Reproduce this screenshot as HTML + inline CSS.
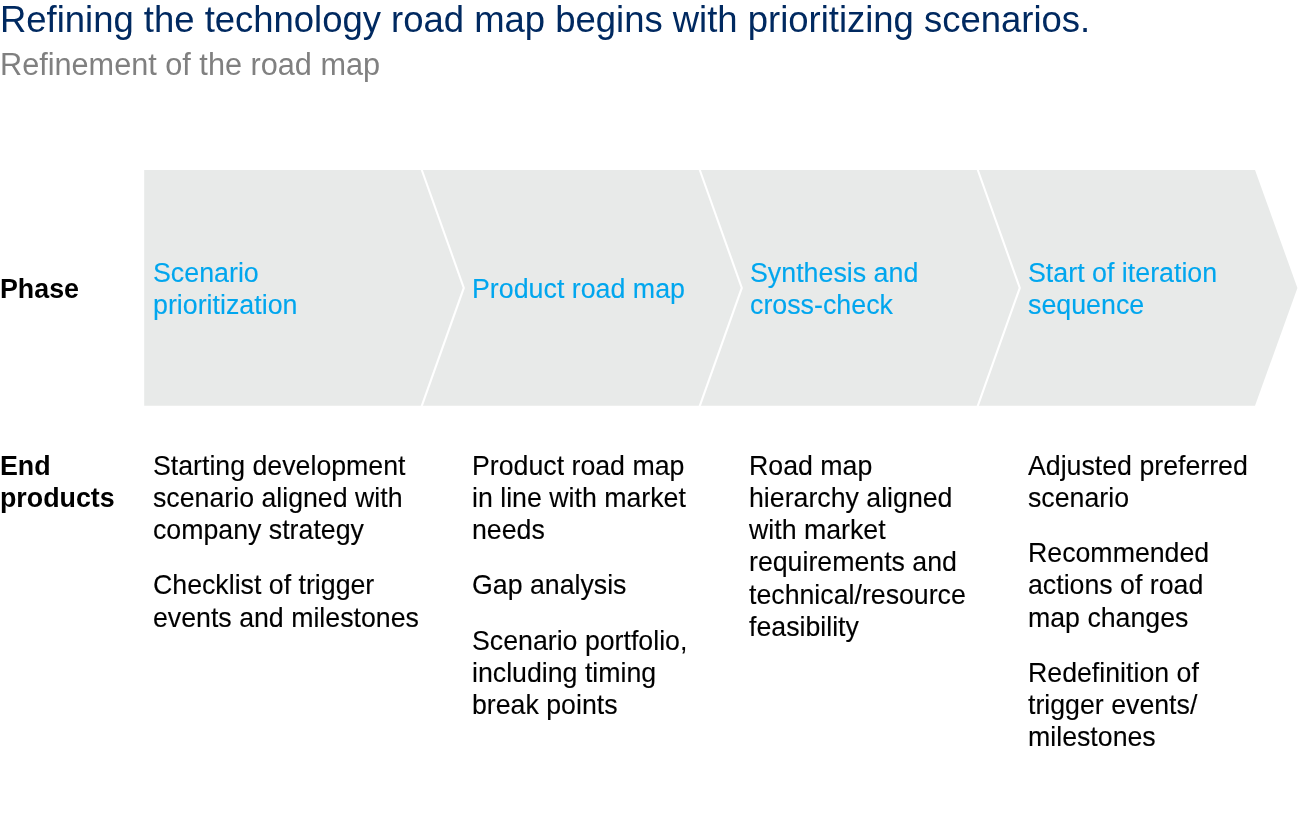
<!DOCTYPE html>
<html lang="en">
<head>
<meta charset="utf-8">
<title>Refinement of the road map</title>
<style>
html,body{margin:0;padding:0;background:#fff;}
body{width:1299px;height:827px;position:relative;overflow:hidden;font-family:"Liberation Sans",Arial,sans-serif;}
.abs{position:absolute;white-space:nowrap;margin:0;will-change:transform;}
.title{left:0px;top:-1px;font-size:36.46px;line-height:42px;color:#002960;}
.sub{left:0px;top:46.4px;font-size:30.66px;line-height:36px;color:#808080;}
.lbl{font-weight:bold;font-size:26.8px;line-height:32px;color:#000;left:0.3px;}
.ph{font-size:26.8px;line-height:32px;color:#00a6ee;-webkit-text-stroke:0.12px #00a6ee;}
.tx{font-size:26.72px;line-height:32.13px;color:#000;-webkit-text-stroke:0.12px #000;}
.tx p{margin:0 0 23px 0;}
svg{position:absolute;left:0;top:0;}
</style>
</head>
<body>
<svg width="1299" height="827" viewBox="0 0 1299 827">
  <polygon points="144.2,170 1255,170 1297.4,288 1255,405.8 144.2,405.8" fill="#e8eae9"/>
  <polyline points="420.01,165 463.8,287.9 420.01,410.8" fill="none" stroke="#fff" stroke-width="2.1"/>
  <polyline points="698.01,165 741.8,287.9 698.01,410.8" fill="none" stroke="#fff" stroke-width="2.1"/>
  <polyline points="976.01,165 1019.8,287.9 976.01,410.8" fill="none" stroke="#fff" stroke-width="2.1"/>
</svg>
<div class="abs title">Refining the technology road map begins with prioritizing scenarios.</div>
<div class="abs sub">Refinement of the road map</div>

<div class="abs lbl" style="top:273px;">Phase</div>
<div class="abs lbl" style="top:450px;">End<br>products</div>

<div class="abs ph" style="left:153.1px;top:257px;">Scenario<br>prioritization</div>
<div class="abs ph" style="left:471.7px;top:273px;">Product road map</div>
<div class="abs ph" style="left:749.9px;top:257px;">Synthesis and<br>cross-check</div>
<div class="abs ph" style="left:1027.8px;top:257px;">Start of iteration<br>sequence</div>

<div class="abs tx" style="left:152.7px;top:450px;">
<p>Starting development<br>scenario aligned with<br>company strategy</p>
<p>Checklist of trigger<br>events and milestones</p>
</div>
<div class="abs tx" style="left:471.6px;top:450px;">
<p>Product road map<br>in line with market<br>needs</p>
<p>Gap analysis</p>
<p>Scenario portfolio,<br>including timing<br>break points</p>
</div>
<div class="abs tx" style="left:749px;top:450px;">
<p>Road map<br>hierarchy aligned<br>with market<br>requirements and<br>technical/resource<br>feasibility</p>
</div>
<div class="abs tx" style="left:1027.8px;top:450px;">
<p>Adjusted preferred<br>scenario</p>
<p>Recommended<br>actions of road<br>map changes</p>
<p>Redefinition of<br>trigger events/<br>milestones</p>
</div>
</body>
</html>
